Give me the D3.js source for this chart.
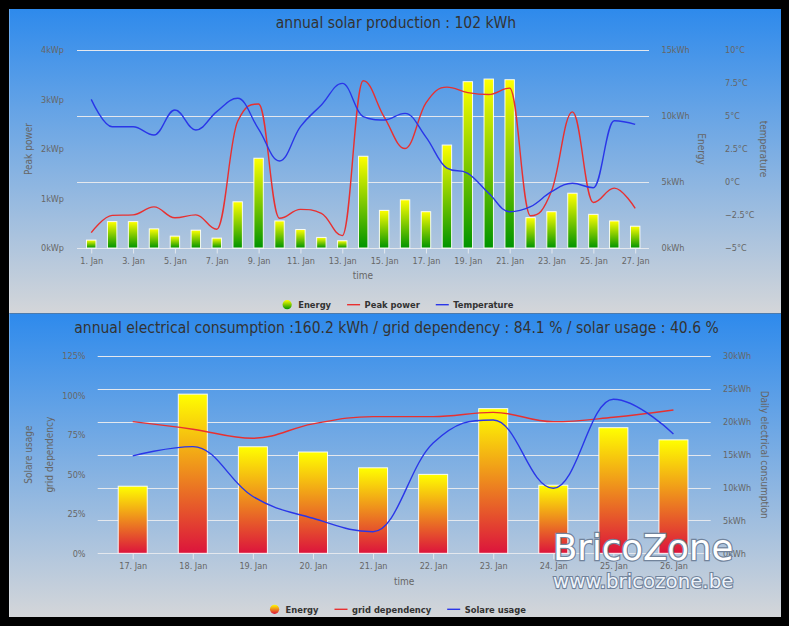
<!DOCTYPE html>
<html><head><meta charset="utf-8">
<script src="https://cdn.jsdelivr.net/npm/d3@7"></script>
<style>html,body{margin:0;padding:0;background:#000;}svg{display:block}</style>
</head><body>
<svg id="c" width="789" height="626"></svg>
<script>
// ---------- DATA ----------
const solarDays = [1,2,3,4,5,6,7,8,9,10,11,12,13,14,15,16,17,18,19,20,21,22,23,24,25,26,27];
const solarTickDays = [1,3,5,7,9,11,13,15,17,19,21,23,25,27];
const energyKWh = [0.6,2.0,2.0,1.45,0.9,1.35,0.75,3.5,6.8,2.05,1.4,0.8,0.55,6.95,2.85,3.65,2.75,7.8,12.6,12.8,12.75,2.3,2.75,4.15,2.55,2.05,1.65];
const peakPowerKWp = [0.31,0.66,0.67,0.83,0.61,0.67,0.38,2.56,2.91,0.6,0.78,0.7,0.25,3.38,2.65,2.01,2.93,3.25,3.14,3.1,3.23,0.65,1.15,2.75,0.92,1.21,0.8];
const temperatureC = [6.26,4.19,4.19,3.56,5.45,3.94,5.33,6.34,4.0,1.59,4.19,5.83,7.47,4.95,4.7,5.2,3.4,1.05,0.66,-0.86,-2.25,-1.87,-0.73,-0.1,-0.43,4.64,4.37];
const peakTicks = [0,1,2,3,4];
const energyTicks = [0,5,10,15];
const tempTicks = [-5,-2.5,0,2.5,5,7.5,10];

const consDays = [17,18,19,20,21,22,23,24,25,26];
const consumptionKWh = [10.2,24.2,16.2,15.4,13.0,12.0,22.0,10.35,19.1,17.25];
const gridDependencyPct = [83.4,78.6,72.9,82.0,86.6,86.6,89.3,83.4,86.2,90.8];
const solarUsagePct = [61.7,67.6,36.0,22.2,13.7,69.9,84.5,41.2,97.6,75.6];
const pctTicks = [0,25,50,75,100,125];
const consTicks = [0,5,10,15,20,25,30];

const title1 = "annual solar production : 102 kWh";
const title2 = "annual electrical consumption :160.2 kWh / grid dependency : 84.1 % / solar usage : 40.6 %";

// ---------- STYLE ----------
const FONT = "'DejaVu Sans Condensed','DejaVu Sans',sans-serif";
const GRID = "#e4e8ee";
const RED = "#e83030", BLUE = "#2a36e8";
const svg = d3.select("#c");
const defs = svg.append("defs");
function vGrad(id, stops){
  const g = defs.append("linearGradient").attr("id",id).attr("x1",0).attr("y1",0).attr("x2",0).attr("y2",1);
  stops.forEach(([o,c]) => g.append("stop").attr("offset",o).attr("stop-color",c));
}
vGrad("bg", [[0,"#2e8aec"],[1,"#d4d6d9"]]);
vGrad("gEnergy", [[0,"#ffff00"],[1,"#009400"]]);
vGrad("gCons", [[0,"#ffff00"],[1,"#dc143c"]]);

function txt(g, x, y, s, o = {}){
  return g.append("text").attr("x",x).attr("y",y).text(s)
    .attr("font-family", o.family || FONT)
    .style("font-stretch", o.stretch || "condensed")
    .attr("font-size", o.size || 9)
    .attr("font-weight", o.weight || "normal")
    .attr("fill", o.fill || "#666")
    .attr("text-anchor", o.anchor || "start");
}
function styleAxis(ax, size){
  ax.select(".domain").remove();
  ax.attr("font-family", FONT).attr("font-size", size || 9).style("font-stretch","condensed");
  ax.selectAll(".tick text").attr("fill","#666");
  ax.selectAll(".tick line").attr("stroke", GRID);
}
// Highcharts-like spline curve
function hcSpline(context){
  let pts;
  return {
    areaStart(){}, areaEnd(){},
    lineStart(){ pts = []; },
    point(x,y){ pts.push([+x,+y]); },
    lineEnd(){
      const n = pts.length; if(!n) return;
      const sm = 1.5, den = sm + 1;
      const ctrl = pts.map((p,i) => {
        if(i === 0 || i === n-1) return null;
        const [x,y] = p, [lx,ly] = pts[i-1], [nx,ny] = pts[i+1];
        let lcx=(sm*x+lx)/den, lcy=(sm*y+ly)/den, rcx=(sm*x+nx)/den, rcy=(sm*y+ny)/den;
        if(rcx !== lcx){ const c=((rcy-lcy)*(rcx-x))/(rcx-lcx)+y-rcy; lcy+=c; rcy+=c; }
        if(lcy>ly && lcy>y){ lcy=Math.max(ly,y); rcy=2*y-lcy; }
        else if(lcy<ly && lcy<y){ lcy=Math.min(ly,y); rcy=2*y-lcy; }
        if(rcy>ny && rcy>y){ rcy=Math.max(ny,y); lcy=2*y-rcy; }
        else if(rcy<ny && rcy<y){ rcy=Math.min(ny,y); lcy=2*y-rcy; }
        return {lcx,lcy,rcx,rcy};
      });
      context.moveTo(pts[0][0], pts[0][1]);
      for(let i=1;i<n;i++){
        const pv = ctrl[i-1], cu = ctrl[i];
        context.bezierCurveTo(pv?pv.rcx:pts[i-1][0], pv?pv.rcy:pts[i-1][1],
                              cu?cu.lcx:pts[i][0], cu?cu.lcy:pts[i][1], pts[i][0], pts[i][1]);
      }
    }
  };
}
function drawLine(g, xs, ys, xsData, ysData, color){
  g.append("path").datum(d3.zip(xsData, ysData))
    .attr("d", d3.line().x(d=>xs(d[0])).y(d=>ys(d[1])).curve(hcSpline))
    .attr("fill","none").attr("stroke",color).attr("stroke-width",1.4);
}
function legend(g, cx, cy, items){
  const lg = g.append("g");
  let x = 0;
  items.forEach(it => {
    if(it.type === "circle"){
      lg.append("circle").attr("cx",x+6.5).attr("cy",cy).attr("r",4.6).attr("fill",it.fill);
    } else {
      lg.append("line").attr("x1",x).attr("x2",x+13).attr("y1",cy).attr("y2",cy).attr("stroke",it.color).attr("stroke-width",1.4);
    }
    const t = txt(lg, x+17.5, cy+3.5, it.label, {size:9.3, weight:"bold", fill:"#333"});
    x += 17.5 + t.node().getComputedTextLength() + 16;
  });
  const total = x - 16;
  lg.attr("transform", `translate(${cx-total/2},0)`);
}

// ---------- PANELS ----------
[[9,304.5],[313.5,303.5]].forEach(([y,h]) => {
  svg.append("rect").attr("x",9).attr("y",y).attr("width",772).attr("height",h).attr("fill","url(#bg)");
  svg.append("line").attr("x1",9.5).attr("x2",9.5).attr("y1",y).attr("y2",y+h).attr("stroke","#fff").attr("stroke-opacity",0.25);
});

// ---------- TOP CHART ----------
const T = {x0:77, x1:649, y0:50, y1:248};
const xT = d3.scaleLinear().domain([d3.min(solarDays)-0.68, d3.max(solarDays)+0.66]).range([T.x0,T.x1]);
const yPeak = d3.scaleLinear().domain([peakTicks[0], peakTicks[peakTicks.length-1]]).range([T.y1,T.y0]);
const yEn = d3.scaleLinear().domain([energyTicks[0], energyTicks[energyTicks.length-1]]).range([T.y1,T.y0]);
const yTmp = d3.scaleLinear().domain([tempTicks[0], tempTicks[tempTicks.length-1]]).range([T.y1,T.y0]);
const gT = svg.append("g");

txt(gT, 396, 28.3, title1, {size:15.5, fill:"#333", anchor:"middle"});

gT.selectAll("line.grid").data(energyTicks).join("line").attr("class","grid")
  .attr("x1",T.x0).attr("x2",T.x1).attr("y1",d=>Math.round(yEn(d))+0.5).attr("y2",d=>Math.round(yEn(d))+0.5)
  .attr("stroke",GRID).attr("stroke-width",1);

const axT = gT.append("g").attr("transform",`translate(0,${T.y1})`)
  .call(d3.axisBottom(xT).tickValues(solarTickDays).tickFormat(d=>`${d}. Jan`).tickSize(5.5));
styleAxis(axT);
axT.selectAll(".tick text").attr("y",15.5).attr("dy",null);

const axPeak = gT.append("g").attr("transform","translate(64,0)")
  .call(d3.axisLeft(yPeak).tickValues(peakTicks).tickFormat(d=>`${d}kWp`).tickSize(0).tickPadding(0));
styleAxis(axPeak);
const axEn = gT.append("g").attr("transform","translate(661.5,0)")
  .call(d3.axisRight(yEn).tickValues(energyTicks).tickFormat(d=>`${d}kWh`).tickSize(0).tickPadding(0));
styleAxis(axEn);
const axTmp = gT.append("g").attr("transform","translate(725,0)")
  .call(d3.axisRight(yTmp).tickValues(tempTicks).tickFormat(d=>`${String(d).replace("-","\u2212")}\u00b0C`).tickSize(0).tickPadding(0));
styleAxis(axTmp);

const midT = (T.y0+T.y1)/2;
txt(gT, 0, 0, "Peak power", {size:10, anchor:"middle"}).attr("transform",`translate(32,${midT}) rotate(-90)`);
txt(gT, 0, 0, "Energy", {size:10, anchor:"middle"}).attr("transform",`translate(697.5,${midT}) rotate(90)`);
txt(gT, 0, 0, "temperature", {size:10, anchor:"middle"}).attr("transform",`translate(760,${midT}) rotate(90)`);
txt(gT, (T.x0+T.x1)/2, 279, "time", {size:10, anchor:"middle"});

const bwT = (xT(2)-xT(1))*0.45;
gT.selectAll("rect.bar").data(energyKWh).join("rect").attr("class","bar")
  .attr("x",(d,i)=>xT(solarDays[i])-bwT/2).attr("y",d=>yEn(d))
  .attr("width",bwT).attr("height",d=>yEn(0)-yEn(d))
  .attr("fill","url(#gEnergy)").attr("stroke","#fff").attr("stroke-width",1).attr("stroke-opacity",0.9);

drawLine(gT, xT, yPeak, solarDays, peakPowerKWp, RED);
drawLine(gT, xT, yTmp, solarDays, temperatureC, BLUE);

legend(gT, 397, 304.7, [
  {type:"circle", fill:"url(#gEnergy)", label:"Energy"},
  {type:"line", color:RED, label:"Peak power"},
  {type:"line", color:BLUE, label:"Temperature"}
]);

// ---------- BOTTOM CHART ----------
const B = {x0:97.7, x1:710.7, y0:356, y1:553.3};
const xB = d3.scaleLinear().domain([d3.min(consDays)-0.583, d3.max(consDays)+0.62]).range([B.x0,B.x1]);
const yPct = d3.scaleLinear().domain([pctTicks[0], pctTicks[pctTicks.length-1]]).range([B.y1,B.y0]);
const yCons = d3.scaleLinear().domain([consTicks[0], consTicks[consTicks.length-1]]).range([B.y1,B.y0]);
const gB = svg.append("g");

txt(gB, 396.5, 332.7, title2, {size:15.5, fill:"#333", anchor:"middle"});

gB.selectAll("line.grid").data(consTicks).join("line").attr("class","grid")
  .attr("x1",B.x0).attr("x2",B.x1).attr("y1",d=>Math.round(yCons(d))+0.5).attr("y2",d=>Math.round(yCons(d))+0.5)
  .attr("stroke",GRID).attr("stroke-width",1);

const axB = gB.append("g").attr("transform",`translate(0,${B.y1})`)
  .call(d3.axisBottom(xB).tickValues(consDays).tickFormat(d=>`${d}. Jan`).tickSize(6));
styleAxis(axB);
axB.selectAll(".tick text").attr("y",16.2).attr("dy",null);

const axPct = gB.append("g").attr("transform","translate(85.5,0)")
  .call(d3.axisLeft(yPct).tickValues(pctTicks).tickFormat(d=>`${d}%`).tickSize(0).tickPadding(0));
styleAxis(axPct);
const axCons = gB.append("g").attr("transform","translate(723,0)")
  .call(d3.axisRight(yCons).tickValues(consTicks).tickFormat(d=>`${d}kWh`).tickSize(0).tickPadding(0));
styleAxis(axCons);

const midB = (B.y0+B.y1)/2;
txt(gB, 0, 0, "Solare usage", {size:10, anchor:"middle"}).attr("transform",`translate(31.7,${midB}) rotate(-90)`);
txt(gB, 0, 0, "grid dependency", {size:10, anchor:"middle"}).attr("transform",`translate(53.3,${midB}) rotate(-90)`);
txt(gB, 0, 0, "Daily electrical consumption", {size:10, anchor:"middle"}).attr("transform",`translate(760.5,${midB}) rotate(90)`);
txt(gB, (B.x0+B.x1)/2, 585, "time", {size:10, anchor:"middle"});

const bwB = (xB(18)-xB(17))*0.483;
gB.selectAll("rect.bar").data(consumptionKWh).join("rect").attr("class","bar")
  .attr("x",(d,i)=>xB(consDays[i])-bwB/2).attr("y",d=>yCons(d))
  .attr("width",bwB).attr("height",d=>yCons(0)-yCons(d))
  .attr("fill","url(#gCons)").attr("stroke","#fff").attr("stroke-width",1).attr("stroke-opacity",0.9);

drawLine(gB, xB, yPct, consDays, gridDependencyPct, RED);
drawLine(gB, xB, yPct, consDays, solarUsagePct, BLUE);

legend(gB, 397, 609.3, [
  {type:"circle", fill:"url(#gCons)", label:"Energy"},
  {type:"line", color:RED, label:"grid dependency"},
  {type:"line", color:BLUE, label:"Solare usage"}
]);

// ---------- WATERMARK ----------
const wm = svg.append("g");
wm.append("text").attr("x",553).attr("y",560).text("BricoZone")
  .attr("font-family","'DejaVu Sans',sans-serif").attr("font-size",35.5)
  .attr("fill","#ffffff").attr("stroke","#71839b").attr("stroke-width",2.4).style("paint-order","stroke");
wm.append("text").attr("x",553).attr("y",588).text("www.bricozone.be")
  .attr("font-family","'DejaVu Sans',sans-serif").attr("font-size",19.8)
  .attr("fill","#eef4fb").attr("stroke","#71839b").attr("stroke-width",2.2).style("paint-order","stroke");
</script>
</body></html>
